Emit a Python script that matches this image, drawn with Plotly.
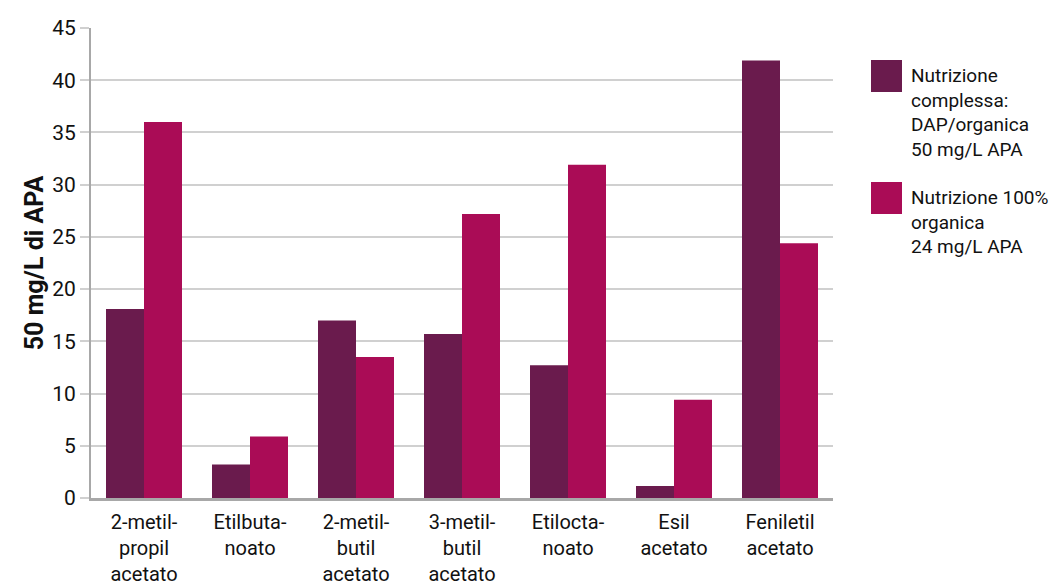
import plotly.graph_objects as go

categories = ["2-metil-<br>propil<br>acetato", "Etilbuta-<br>noato", "2-metil-<br>butil<br>acetato",
              "3-metil-<br>butil<br>acetato", "Etilocta-<br>noato", "Esil<br>acetato", "Feniletil<br>acetato"]
series_names = ["Nutrizione<br>complessa:<br>DAP/organica<br>50 mg/L APA",
                "Nutrizione 100%<br>organica<br>24 mg/L APA"]
complessa = [18.1, 3.2, 17.0, 15.7, 12.7, 1.15, 41.9]
organica = [36.0, 5.9, 13.5, 27.2, 31.9, 9.4, 24.4]
y_ticks = [0, 5, 10, 15, 20, 25, 30, 35, 40, 45]

colors = ["#6A1B4D", "#AA0C56"]
font_main = "Roboto, sans-serif"

fig = go.Figure()
for name, vals, c in zip(series_names, [complessa, organica], colors):
    fig.add_trace(go.Bar(x=categories, y=vals, name=name, marker_color=c,
                         marker_line_width=0, showlegend=False))

fig.update_layout(
    width=1050, height=588,
    margin=dict(l=91, r=217, t=28, b=90),
    paper_bgcolor="white", plot_bgcolor="white",
    barmode="group", bargap=0.283, bargroupgap=0,
    font=dict(family=font_main, color="#111"),
)
fig.update_xaxes(
    showline=True, linecolor="#A8A8A8", linewidth=3, ticks="",
    tickfont=dict(family=font_main, size=20, color="#111"), showgrid=False,
    automargin=False, ticklabelstandoff=4,
)
fig.update_yaxes(
    range=[0, 45], tickvals=y_ticks, showline=True, linecolor="#A8A8A8", linewidth=2,
    showgrid=True, gridcolor="#D0D0D0", gridwidth=2,
    ticks="outside", ticklen=9, tickcolor="#D0D0D0", tickwidth=2,
    tickfont=dict(family=font_main, size=21, color="#111"),
    title=dict(text="<b>50 mg/L di APA</b>", font=dict(family="Roboto, Arial, sans-serif", size=25, color="#111"), standoff=1),
    zeroline=False, automargin=False,
)

# custom legend with large squares
legend_y = [60, 182]
for name, c, y0 in zip(series_names, colors, legend_y):
    fig.add_shape(type="rect", xref="paper", yref="paper",
                  x0=(871 - 91) / 742, x1=(902 - 91) / 742,
                  y0=(498 - (y0 + 32)) / 470, y1=(498 - y0) / 470,
                  fillcolor=c, line_width=0)
    fig.add_annotation(xref="paper", yref="paper", x=(909 - 91) / 742, y=(498 - (y0 + 2)) / 470,
                       text=name, showarrow=False, xanchor="left", yanchor="top", align="left",
                       font=dict(family=font_main, size=19, color="#111"))

fig.write_html("out.html")
